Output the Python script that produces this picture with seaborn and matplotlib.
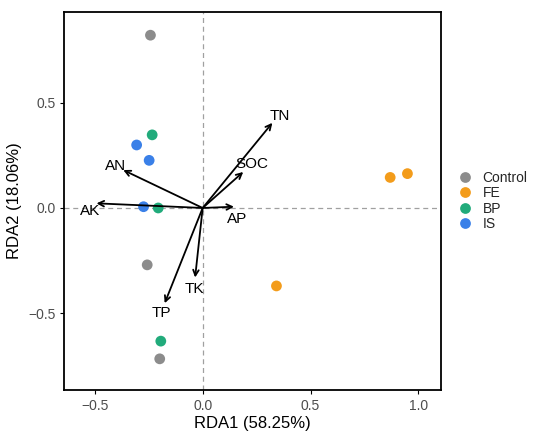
import numpy as np
import pandas as pd
import matplotlib
matplotlib.use('Agg')
import matplotlib.pyplot as plt
import seaborn as sns

# sample scores
groups = ['Control', 'Control', 'Control', 'FE', 'FE', 'FE',
          'BP', 'BP', 'BP', 'IS', 'IS', 'IS']
rda1 = [-0.242, -0.257, -0.199, 0.869, 0.949, 0.342,
        -0.234, -0.206, -0.194, -0.306, -0.248, -0.274]
rda2 = [0.820, -0.270, -0.716, 0.145, 0.163, -0.370,
        0.347, 0.000, -0.632, 0.299, 0.226, 0.006]

# environmental factor arrows
env = ['TN', 'SOC', 'AN', 'AK', 'AP', 'TK', 'TP']
env_x = [0.323, 0.188, -0.368, -0.492, 0.145, -0.035, -0.176]
env_y = [0.404, 0.171, 0.180, 0.022, 0.006, -0.330, -0.452]

palette = {'Control': '#8c8c8c', 'FE': '#f39c1b', 'BP': '#21ab7b', 'IS': '#3a80e8'}

df = pd.DataFrame({'RDA1': rda1, 'RDA2': rda2, 'Group': groups})

sns.set_theme(style='white')
plt.rcParams['font.family'] = ['Liberation Sans', 'DejaVu Sans']

fig, ax = plt.subplots(figsize=(5.5, 4.37), dpi=100)
fig.subplots_adjust(left=0.117, right=0.802, top=0.972, bottom=0.108)

ax.axhline(0, color='#a0a0a0', ls=(0, (4, 3)), lw=0.9, zorder=0)
ax.axvline(0, color='#a0a0a0', ls=(0, (4, 3)), lw=0.9, zorder=0)

sns.scatterplot(data=df, x='RDA1', y='RDA2', hue='Group', palette=palette,
                hue_order=['Control', 'FE', 'BP', 'IS'],
                s=60, edgecolor='none', ax=ax, zorder=3)

# label nudges so text sits clear of the arrow heads
nudge = {'AP': (0.0, -0.06), 'AK': (0.02, -0.04), 'SOC': (0.02, 0.02),
         'TN': (0.0, -0.01), 'TK': (0.0, -0.02)}
for name, ex, ey in zip(env, env_x, env_y):
    ax.annotate('', xy=(ex, ey), xytext=(0, 0),
                arrowprops=dict(arrowstyle='->', color='black', lw=1.3,
                                shrinkA=0, shrinkB=0, mutation_scale=10),
                zorder=4)
    dx, dy = nudge.get(name, (0, 0))
    ax.text(ex * 1.1 + dx, ey * 1.1 + dy, name, ha='center', va='center',
            fontsize=11, color='black', zorder=5)

ax.set_xlim(-0.641, 1.105)
ax.set_ylim(-0.863, 0.929)
ax.set_xticks([-0.5, 0.0, 0.5, 1.0])
ax.set_yticks([-0.5, 0.0, 0.5])
ax.set_xlabel('RDA1 (58.25%)', fontsize=12, color='black', labelpad=2)
ax.set_ylabel('RDA2 (18.06%)', fontsize=12, color='black', labelpad=4)
ax.tick_params(axis='both', direction='out', length=3, width=0.8,
               labelsize=10, labelcolor='#4d4d4d', color='black',
               left=True, bottom=True)

for sp in ax.spines.values():
    sp.set_color('black')
    sp.set_linewidth(1.3)

leg = ax.legend(loc='center left', bbox_to_anchor=(0.99, 0.5), frameon=False,
                fontsize=10, handletextpad=0.25, labelspacing=0.1,
                markerscale=1.0, borderaxespad=0.6)

fig.savefig('out.png', dpi=100)
